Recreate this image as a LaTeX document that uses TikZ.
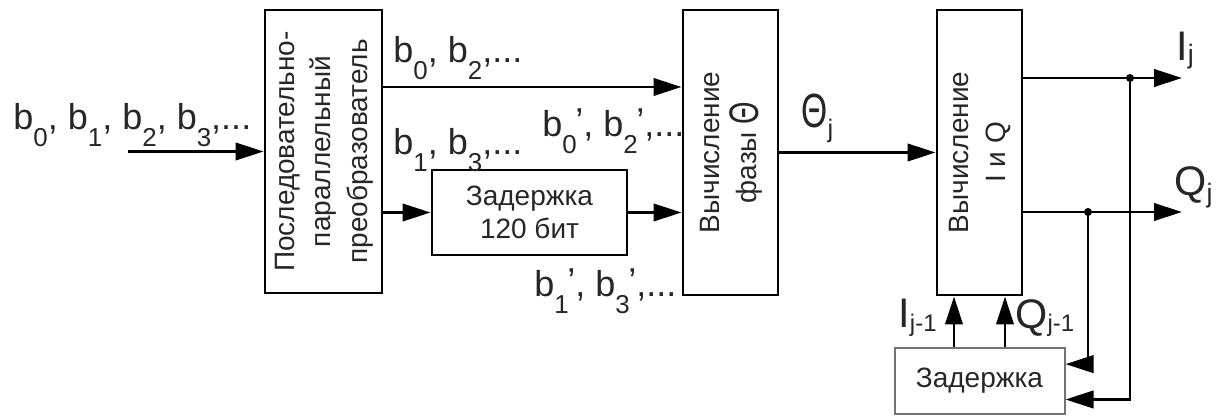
\documentclass[tikz,border=0pt]{standalone}
\usepackage{fontspec}
\setmainfont{Liberation Sans}
\usetikzlibrary{arrows.meta,positioning,calc}

\newcommand{\lo}[1]{\raisebox{-0.45em}{\scalebox{0.72}{#1}}}
\newcommand{\lop}[1]{\lo{#1}\kern-0.04em\raisebox{0.1em}{'}}
\newcommand{\Th}{\scalebox{0.7}[1]{Θ}}

\begin{document}
\begin{tikzpicture}[x=0.75pt,y=-0.75pt,>={Triangle[length=21pt,width=13pt]},line width=2.2pt]
  \tikzstyle{block}=[rectangle,draw=black,line width=2.2pt,inner sep=0pt,text=black!85,font=\fontsize{21}{27.5}\selectfont]
  \tikzstyle{bits}=[inner sep=0pt,anchor=base west,text=black!85,font=\fontsize{27}{27}\selectfont]
  \tikzstyle{sig}=[inner sep=0pt,anchor=base west,text=black!85,font=\fontsize{31}{31}\selectfont]
  \tikzstyle{dot}=[circle,fill=black,inner sep=0pt,minimum size=6pt]

  \useasboundingbox (0,0) rectangle (1224,416);

  \begin{scope}
    % blocks
    \node [block,minimum width=87.75pt,minimum height=212.25pt] (sp) at (323.5,151.5)
      {\rotatebox{90}{\begin{tabular}{@{}c@{}}Последовательно-\\параллельный\\преобразователь\end{tabular}}};
    \node [block,minimum width=146.25pt,minimum height=63.75pt,align=center,font=\fontsize{21}{25}\selectfont]
      (dl) at (529.5,212.5) {Задержка\\120 бит};
    \node [block,minimum width=71.25pt,minimum height=213.75pt] (ph) at (730.5,152.5)
      {\rotatebox{90}{\begin{tabular}{@{}c@{}}Вычисление\\фазы \smash{\raisebox{-2pt}{\fontsize{31}{31}\selectfont\Th}}\end{tabular}}};
    \node [block,minimum width=63.75pt,minimum height=213.75pt] (iq) at (979.5,152.5)
      {\rotatebox{90}{\begin{tabular}{@{}c@{}}Вычисление\\I и Q\end{tabular}}};
    \node [block,draw=black!55,line width=1.5pt,minimum width=127.5pt,minimum height=49.5pt]
      (dl2) [below=38pt of iq] {Задержка};

    \node [dot] (idot) at (1130,78) {};
    \node [dot] (qdot) at (1088,212) {};
    \coordinate (in) at (128,151.5);
    \coordinate (top) at (0,87);
    \coordinate (iout) at (1182,78);
    \coordinate (qout) at (1182,212);
    \coordinate (ia) at ($(iq.south west)!0.21!(iq.south east)$);
    \coordinate (qa) at ($(iq.south west)!0.79!(iq.south east)$);
  \end{scope}

  \begin{scope}
    % bit streams
    \node [bits] (bin) at (12,130) {b\lo{0}, b\lo{1}, b\lo{2}, b\lo{3},...};
    \node [bits] (beven) at (392,63) {b\lo{0}, b\lo{2},...};
    \node [bits] (bodd) at (392,155) {b\lo{1}, b\lo{3},...};
    \node [bits] (bevend) at (541,137) {b\lop{0}, b\lop{2},...};
    \node [bits] (boddd) at (533,297) {b\lop{1}, b\lop{3},...};
    % signals
    \node [sig] (theta) at (800,128) {{\fontsize{36}{36}\selectfont\Th}\raisebox{-7pt}{\fontsize{19}{19}\selectfont j}};
    \node [sig] (ij) at (1175,61) {I\raisebox{-2pt}{\fontsize{20}{20}\selectfont j}};
    \node [sig] (qj) at (1173,196) {Q\raisebox{-5pt}{\fontsize{20}{20}\selectfont j}};
    \node [sig] (ij1) at (897,328) {I\raisebox{-3pt}{\fontsize{18}{18}\selectfont j-1}};
    \node [sig] (qj1) at (1014,329) {Q\raisebox{-2pt}{\fontsize{18}{18}\selectfont j-1}};
  \end{scope}

  \begin{scope}
    \path [->] (in) edge (sp);
    \path [->] (sp.east |- top) edge (ph.west |- top);
    \path [->] (sp.east |- dl.west) edge (dl);
    \path [->] (dl) edge (ph.west |- dl.east);
    \path [->] (ph) edge (iq);
    \path [->] (iq.east |- iout) edge (iout);
    \path [->] (iq.east |- qout) edge (qout);
    \path [->] (dl2.north -| ia) edge (ia);
    \path [->] (dl2.north -| qa) edge (qa);
    \draw [->] (qdot.center) |- ($(dl2.north east)!0.25!(dl2.south east)$);
    \draw [->] (idot.center) |- ($(dl2.north east)!0.77!(dl2.south east)$);
  \end{scope}
\end{tikzpicture}
\end{document}
